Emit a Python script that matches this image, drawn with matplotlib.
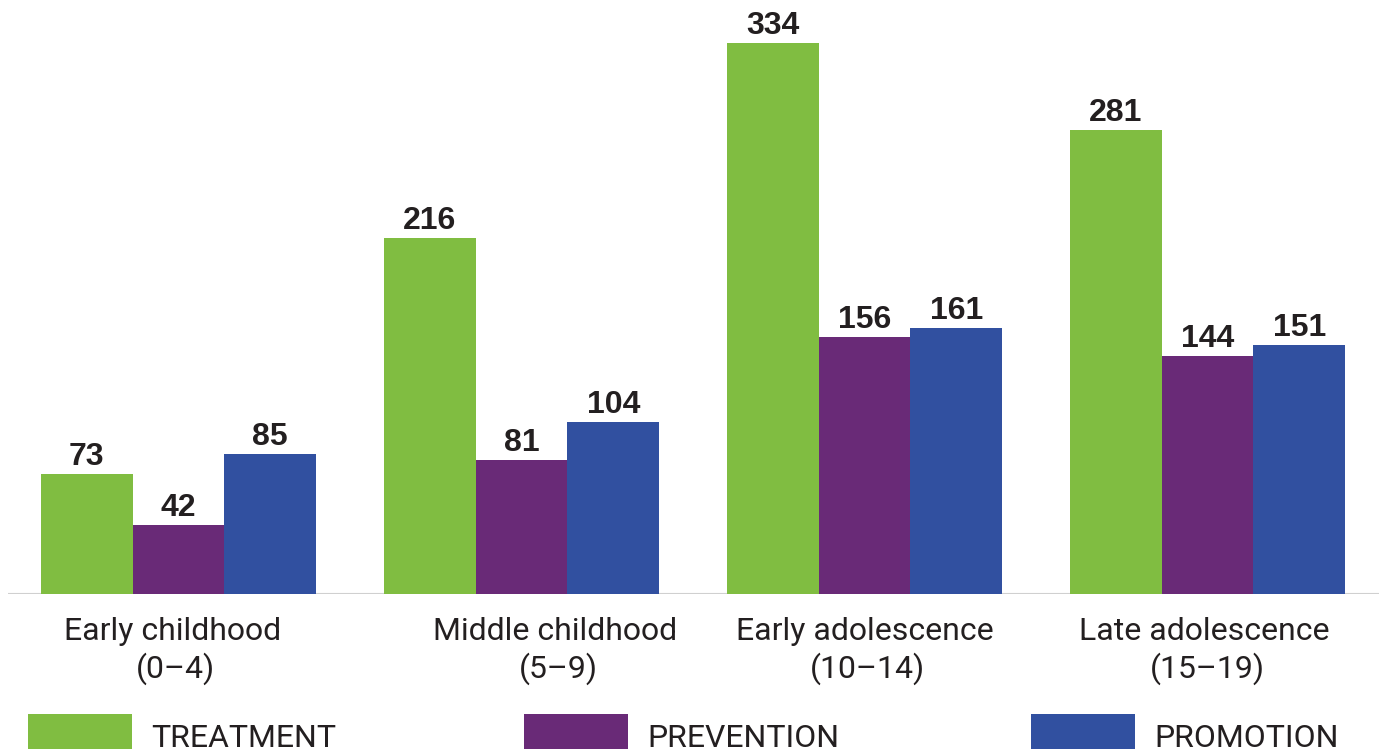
import matplotlib
matplotlib.use("Agg")
import matplotlib.pyplot as plt
from matplotlib.patches import Rectangle
from matplotlib.transforms import offset_copy
import numpy as np

categories = ["Early childhood", "Middle childhood", "Early adolescence", "Late adolescence"]
age_ranges = ["(0–4)", "(5–9)", "(10–14)", "(15–19)"]
series_names = ["TREATMENT", "PREVENTION", "PROMOTION"]
treatment = [73, 216, 334, 281]
prevention = [42, 81, 156, 144]
promotion = [85, 104, 161, 151]
colors = ["#80bd41", "#692a77", "#3150a0"]

W, H = 1379, 751
fig = plt.figure(figsize=(W / 100, H / 100), dpi=100)
ax = fig.add_axes([8 / W, (H - 594) / H, (W - 8) / W, 594 / H])

x = np.arange(len(categories))
bw = 91.7 / 343
series = [treatment, prevention, promotion]
for k, (vals, col) in enumerate(zip(series, colors)):
    pos = x + (k - 1) * bw
    bars = ax.bar(pos, vals, width=bw, color=col, linewidth=0, zorder=2)
    for b, v in zip(bars, vals):
        ax.annotate(str(v), (b.get_x() + b.get_width() / 2, v),
                    xytext=(0, 6.5), textcoords="offset points",
                    ha="center", va="baseline", fontsize=23, fontweight="bold",
                    family="Liberation Sans", color="#231f20")

ax.set_xlim(-(178.5 - 8) / 343, (W - 178.5) / 343)
ax.set_ylim(0, 594 / (551 / 334))
ax.axis("off")
ax.axhline(0, color="#d0d0d0", lw=1.5, zorder=1)

label_offsets = [-6, 34, 0, -3]
text_kw = dict(fontsize=23, family="Roboto", fontweight="normal", color="#231f20")
for i, (cat, rng, off) in enumerate(zip(categories, age_ranges, label_offsets)):
    tr = offset_copy(fig.dpi_scale_trans, fig=fig, x=0, y=0)
    xf = ax.transData.transform((i, 0))[0]
    fig.text((xf + off) / W, (H - 640) / H, cat, ha="center", va="baseline", **text_kw)
    fig.text((xf + off + 3) / W, (H - 678) / H, rng, ha="center", va="baseline", **text_kw)

leg_x = [28, 524, 1031]
for name, col, lx in zip(series_names, colors, leg_x):
    fig.patches.append(Rectangle((lx / W, (H - 749) / H), 104 / W, 35 / H,
                                 transform=fig.transFigure, color=col, lw=0))
    fig.text((lx + 123) / W, (H - 747) / H, name, ha="left", va="baseline", **text_kw)

fig.savefig("out.png", dpi=100)
